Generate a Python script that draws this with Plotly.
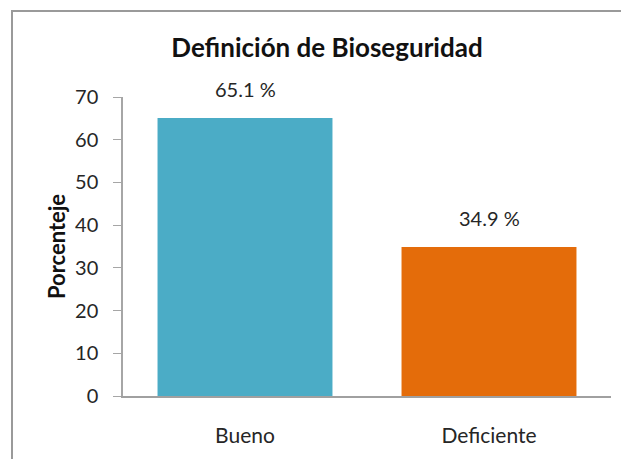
import plotly.graph_objects as go

categorias = ['Bueno', 'Deficiente']
porcentajes = [65.1, 34.9]
etiquetas = ['65.1 %', '34.9 %']
colores = ['#4BACC6', '#E46C0A']

# the page adds an 8px body margin, so the figure is sized for that
W, H = 621, 451
m = dict(l=115, r=18, t=89, b=56)

fig = go.Figure(go.Bar(
    x=categorias,
    y=porcentajes,
    marker_color=colores,
    marker_line_width=0,
    width=0.717,
))

for c, v, t in zip(categorias, porcentajes, etiquetas):
    fig.add_annotation(x=c, y=v, text=t, showarrow=False,
                       yanchor='bottom', yshift=15,
                       font=dict(size=20, color='#262626'))

# chart border (cut off at right/bottom like the reference)
pw = W - m['l'] - m['r']
ph = H - m['t'] - m['b']
fig.add_shape(type='rect', xref='paper', yref='paper',
              x0=(4 - m['l']) / pw, x1=(W + 20 - m['l']) / pw,
              y0=-(m['b'] + 20) / ph, y1=(H - 1 - m['b']) / ph,
              line=dict(color='#9a9a9a', width=2), layer='below')

fig.update_layout(
    width=W, height=H,
    margin=m,
    paper_bgcolor='white',
    plot_bgcolor='white',
    font=dict(family='Lato, sans-serif', color='#262626'),
    title=dict(text='<b>Definición de Bioseguridad</b>', x=319 / W, xref='container',
               xanchor='center', y=1 - 40 / H, yanchor='middle',
               font=dict(size=26, color='#111111')),
    showlegend=False,
    bargap=0.283,
)

fig.update_yaxes(
    range=[0, 70], dtick=10, tick0=0,
    showgrid=False, zeroline=False,
    showline=True, linecolor='#a6a6a6', linewidth=1.5,
    ticks='outside', ticklen=8, tickcolor='#a6a6a6',
    tickfont=dict(size=20), ticklabelstandoff=11,
    title=dict(text='<b>Porcenteje</b>', font=dict(size=22, color='#111111'), standoff=3),
)
fig.update_xaxes(
    showgrid=False,
    showline=True, linecolor='#a0a0a0', linewidth=2,
    ticks='', tickfont=dict(size=21),
    ticklabelstandoff=20,
)

fig.write_html('out.html')
